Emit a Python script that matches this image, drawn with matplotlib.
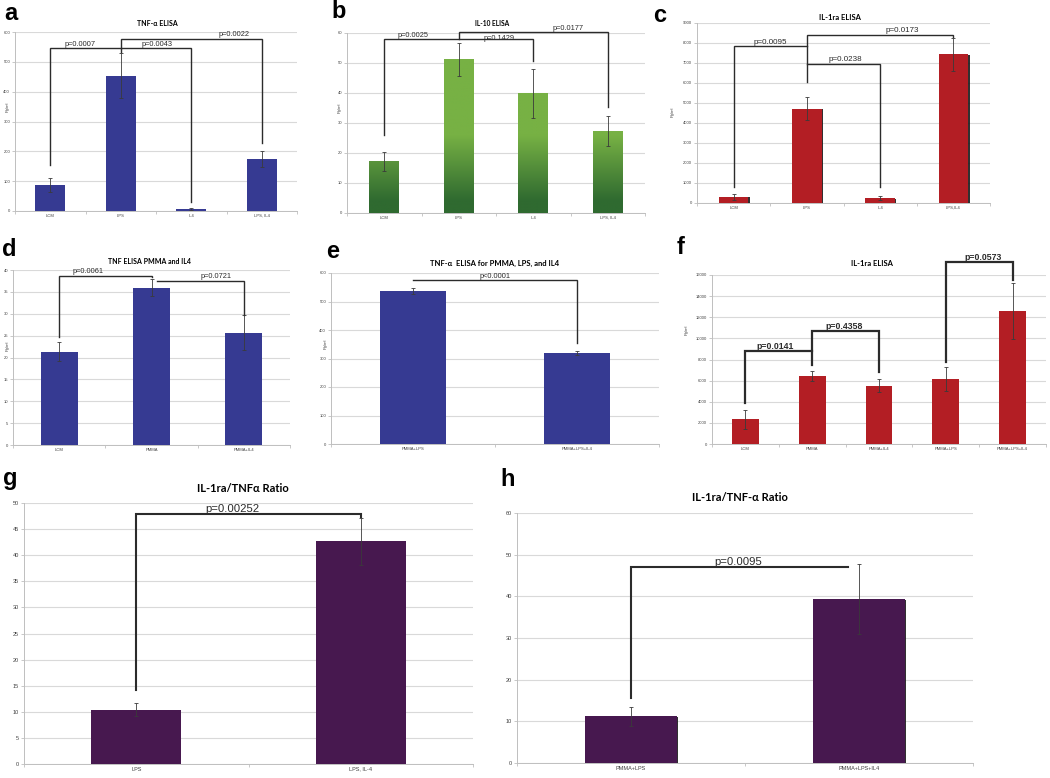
import numpy as np
import matplotlib
matplotlib.use("Agg")
from matplotlib import pyplot as plt
from matplotlib.colors import LinearSegmentedColormap
import matplotlib.patheffects as pe

plt.rcParams['font.family'] = ['Liberation Sans', 'DejaVu Sans']

W, H = 1050, 778

# a: TNF-a ELISA
a_cats = ["LCM", "LPS", "IL4", "LPS, IL4"]
a_vals = [88, 453, 7, 173]
a_err = [23, 75, 4, 27]
a_brackets = [(0, 1, 155, 546, 546), (1, 2, 532, 546, 31), (1, 3, 546, 577, 227)]
a_pvals = [("p=0.0007", 0.42, 546), ("p=0.0043", 1.51, 546), ("p=0.0022", 2.6, 577)]

# b: IL-10 ELISA
b_cats = ["LCM", "LPS", "IL4", "LPS, IL4"]
b_vals = [17.1, 51.2, 39.9, 27.3]
b_err = [3.1, 5.6, 8.1, 5.0]
b_brackets = [(0, 2, 26, 58, 50.7), (1, 3, 58, 60.3, 35.2)]
b_pvals = [("p=0.0025", 0.38, 58), ("p=0.1429", 1.54, 57), ("p=0.0177", 2.47, 60.3)]

# c: IL-1ra ELISA
c_cats = ["LCM", "LPS", "IL4", "LPS,IL4"]
c_vals = [320, 4720, 250, 7440]
c_err = [150, 580, 110, 820]
c_brackets = [(0, 1, 800, 7833, 7833), (1, 2, 6967, 6967, 800), (1, 3, 6050, 8417, 8300)]
c_pvals = [("p=0.0095", 0.5, 7833), ("p=0.0238", 1.53, 6967), ("p=0.0173", 2.3, 8417)]

# d: TNF ELISA PMMA and IL4
d_cats = ["LCM", "PMMA", "PMMA+IL4"]
d_vals = [21.3, 36.0, 25.7]
d_err = [2.2, 1.9, 4.0]
d_brackets = [(0, 1, 24.8, 38.7, 38.4), (1.06, 2, 37.6, 37.6, 29.8)]
d_pvals = [("p=0.0061", 0.31, 38.7), ("p=0.0721", 1.7, 37.6)]

# e: TNF-a ELISA for PMMA, LPS, and IL4
e_cats = ["PMMA+LPS", "PMMA+LPS+IL4"]
e_vals = [536, 319]
e_err = [10, 8]
e_brackets = [(0, 1, 574, 574, 356)]
e_pvals = [("p<0.0001", 0.5, 574)]

# f: IL-1ra ELISA
f_cats = ["LCM", "PMMA", "PMMA+IL4", "PMMA+LPS", "PMMA+LPS+IL4"]
f_vals = [2350, 6450, 5520, 6150, 12550]
f_err = [900, 450, 600, 1150, 2650]
f_brackets = [(0, 1, 3850, 8800, 8800), (1, 2, 7480, 10700, 6850), (3, 4, 7800, 17200, 15500)]
f_pvals = [("p=0.0141", 0.45, 8800), ("p=0.4358", 1.48, 10700), ("p=0.0573", 3.56, 17200)]

# g: IL-1ra/TNFa ratio
g_cats = ["LPS", "LPS, IL-4"]
g_vals = [10.4, 42.7]
g_err = [1.2, 4.5]
g_brackets = [(0, 1, 14.2, 47.8, 47.3)]
g_pvals = [("p=0.00252", 0.43, 47.8)]

# h: IL-1ra/TNF-a ratio
h_cats = ["PMMA+LPS", "PMMA+LPS+IL4"]
h_vals = [11.2, 39.4]
h_err = [2.2, 8.4]
h_brackets = [(0, 0.95, 15.6, 47, 47)]
h_pvals = [("p=0.0095", 0.47, 47)]


def px_rect(x0, y0, x1, y1):
    return [x0 / W, 1 - y1 / H, (x1 - x0) / W, (y1 - y0) / H]


def panel(fig, box, cats, vals, errs, ymax, ystep, color, brackets, pvals,
          psize=5.3, blw=1.0, tsize=3, width=0.4, ylabel_xy=None, pbold=False,
          shadow=False, grad=None):
    ax = fig.add_axes(px_rect(*box))
    n = len(cats)
    x = np.arange(n)
    bars = ax.bar(x, vals, width=width, color=color, zorder=2)
    if shadow:
        for b in bars:
            b.set_path_effects([pe.SimplePatchShadow(offset=(1.2, -0.6), shadow_rgbFace='#1a1a1a', alpha=0.9),
                                pe.Normal()])
    if grad is not None:
        cmap = LinearSegmentedColormap.from_list('grn', grad)
        for b in bars:
            h = b.get_height()
            col = np.linspace(0, h, 200).reshape(-1, 1)
            ax.imshow(col, extent=[b.get_x(), b.get_x() + b.get_width(), 0, h], origin='lower',
                      aspect='auto', cmap=cmap, vmin=4, vmax=26, zorder=2.5)
    ax.errorbar(x, vals, yerr=errs, fmt='none', ecolor='#3a3a3a', elinewidth=0.6,
                capsize=1.2, capthick=0.6, zorder=3)

    for (i, j, yl, yt, yr) in brackets:
        ax.plot([i, i, j, j], [yl, yt, yt, yr], color='#2b2b2b', lw=blw,
                solid_joinstyle='miter', clip_on=False, zorder=4)
    for (txt, tx, ty) in pvals:
        ax.annotate(txt, (tx, ty), xytext=(0, 0.3), textcoords='offset points',
                    ha='center', va='bottom', fontsize=psize, color='#2b2b2b',
                    fontweight='bold' if pbold else 'normal', zorder=5,
                    annotation_clip=False)

    ax.set_xlim(-0.5, n - 0.5)
    ax.set_ylim(0, ymax)
    ax.set_yticks(np.arange(0, ymax + ystep / 2, ystep))
    ax.set_xticks(x)
    ax.set_xticklabels(cats)
    ax.set_xticks(np.arange(-0.5, n, 1.0), minor=True)
    ax.tick_params(axis='x', which='major', length=0, labelsize=tsize, labelcolor='#404040', pad=2)
    ax.tick_params(axis='x', which='minor', length=2, color='#bfbfbf', width=0.6)
    ax.tick_params(axis='y', length=2, color='#bfbfbf', width=0.6, labelsize=tsize,
                   labelcolor='#404040', pad=1.5)
    ax.set_axisbelow(True)
    ax.yaxis.grid(True, color='#d9d9d9', lw=0.8)
    for s in ['top', 'right']:
        ax.spines[s].set_visible(False)
    for s in ['left', 'bottom']:
        ax.spines[s].set_color('#bfbfbf')
        ax.spines[s].set_linewidth(0.7)
    if ylabel_xy is not None:
        # y label sits in the gap between two tick labels, as in the source figure
        lx, ly = ylabel_xy
        ax.set_ylabel("Pg/ml", fontsize=tsize, color='#404040')
        ax.yaxis.set_label_coords((lx - box[0]) / (box[2] - box[0]),
                                  (box[3] - ly) / (box[3] - box[1]))
        ax.yaxis.label.set_va('center')
    return ax


def fig_text(fig, x, y, s, **kw):
    fig.text(x / W, 1 - y / H, s, ha='center', va='center', **kw)


fig = plt.figure(figsize=(10.5, 7.78), dpi=100)

blue = '#363a92'
red = '#b31e24'
purple = '#47184f'

panel(fig, (15, 32, 297, 211), a_cats, a_vals, a_err, 600, 100, blue, a_brackets, a_pvals,
      width=0.43, ylabel_xy=(8, 107))
panel(fig, (347, 33, 645, 213), b_cats, b_vals, b_err, 60, 10, '#76b043', b_brackets, b_pvals,
      ylabel_xy=(340, 108), grad=['#2f6a30', '#77b144'])
panel(fig, (697, 23, 990, 203), c_cats, c_vals, c_err, 9000, 1000, red, c_brackets, c_pvals,
      psize=5.8, ylabel_xy=(673, 112), shadow=True)
panel(fig, (13, 270, 290, 445), d_cats, d_vals, d_err, 40, 5, blue, d_brackets, d_pvals,
      ylabel_xy=(8, 346))
panel(fig, (331, 273, 659, 444), e_cats, e_vals, e_err, 600, 100, blue, e_brackets, e_pvals,
      ylabel_xy=(326, 344))
panel(fig, (712, 275, 1046, 444), f_cats, f_vals, f_err, 16000, 2000, red, f_brackets, f_pvals,
      psize=6.3, blw=1.6, ylabel_xy=(687, 330), pbold=True)
panel(fig, (24, 503, 473, 764), g_cats, g_vals, g_err, 50, 5, purple, g_brackets, g_pvals,
      psize=8.2, blw=1.5, tsize=4)
panel(fig, (517, 513, 973, 763), h_cats, h_vals, h_err, 60, 10, purple, h_brackets, h_pvals,
      psize=8.2, blw=1.5, tsize=4, shadow=True)

tfont = ['Lato', 'DejaVu Sans']
fig_text(fig, 157, 24, "TNF-α ELISA", fontsize=5, fontweight='bold', family=tfont)
fig_text(fig, 492, 23, "IL-10 ELISA", fontsize=4.8, fontweight='bold', family=tfont)
fig_text(fig, 840, 18, "IL-1ra ELISA", fontsize=5.5, fontweight='bold', family=tfont)
fig_text(fig, 149, 261, "TNF ELISA PMMA and IL4", fontsize=5, fontweight='bold', family=tfont)
fig_text(fig, 495, 263, "TNF-α  ELISA for PMMA, LPS, and IL4", fontsize=5.5, fontweight='bold', family=tfont)
fig_text(fig, 872, 264, "IL-1ra ELISA", fontsize=5.5, fontweight='bold', family=tfont)
fig_text(fig, 243, 488, "IL-1ra/TNFα Ratio", fontsize=8, fontweight='bold', family=tfont)
fig_text(fig, 740, 497, "IL-1ra/TNF-α Ratio", fontsize=8, fontweight='bold', family=tfont)

for letter, lx, ly in [("a", 11, 14), ("b", 339, 12), ("c", 660, 15), ("d", 9, 249),
                       ("e", 333, 252), ("f", 681, 248), ("g", 10, 478), ("h", 508, 480)]:
    fig_text(fig, lx, ly, letter, fontsize=17, fontweight='bold', color='black')

fig.savefig("out.png", dpi=100)
